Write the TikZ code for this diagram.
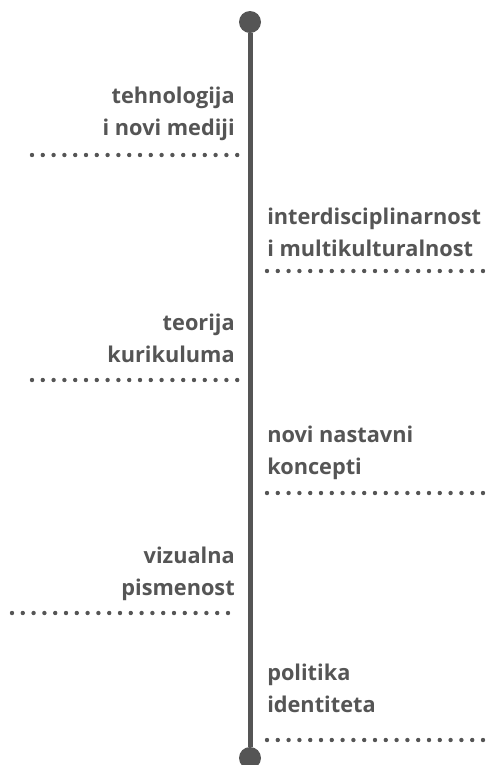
\documentclass[tikz,border=0pt]{standalone}
\usepackage{fontspec}
\setmainfont{Open Sans}
\usetikzlibrary{positioning}
\definecolor{axisgray}{RGB}{85,85,85}
\tikzset{
  topic/.style={inner sep=0pt, font=\fontsize{16.3}{23.5}\selectfont\bfseries, text=axisgray},
  lefttopic/.style={topic, align=right, anchor=base east},
  righttopic/.style={topic, align=left, anchor=base west},
  dotrule/.style={draw=axisgray, line width=3.3pt, line cap=round, dash pattern=on 0pt off 8.1pt},
  endpoint/.style={circle, fill=axisgray, inner sep=0pt, minimum size=16.5pt}
}

\begin{document}
\begin{tikzpicture}[x=0.75pt,y=0.75pt,yscale=-1,xscale=1]
\useasboundingbox (0,0) rectangle (494,765);

%Axis with end points
\node[endpoint] (top) at (250,22) {};
\node[endpoint] (bottom) at (250,758) {};
\draw[axisgray, line width=3.75pt] (top) -- (bottom);

% Text Nodes (anchored at the baseline of the last line)
\node[lefttopic] (tech) at (235,135) {tehnologija\\i novi mediji};
\node[righttopic] (inter) at (267,256) {interdisciplinarnost\\i multikulturalnost};
\node[lefttopic] (teor) at (235,362) {teorija\\kurikuluma};
\node[righttopic] (novi) at (267,474) {novi nastavni\\koncepti};
\node[lefttopic] (viz) at (235,595) {vizualna\\pismenost};
\node[righttopic] (polit) at (267,712) {politika\\identiteta};

%Dotted Lines
\coordinate (techA) at (32,155);   \coordinate (techB) at (240,155);
\coordinate (interA) at (267,271); \coordinate (interB) at (484,271);
\coordinate (teorA) at (32,380);   \coordinate (teorB) at (240,380);
\coordinate (noviA) at (267,493);  \coordinate (noviB) at (484,493);
\coordinate (vizA) at (12,613);    \coordinate (vizB) at (238,613);
\coordinate (politA) at (267,740); \coordinate (politB) at (484,740);
\foreach \t in {tech,inter,teor,novi,viz,polit}
  \draw[dotrule] (\t A) -- (\t B);

\end{tikzpicture}
\end{document}
